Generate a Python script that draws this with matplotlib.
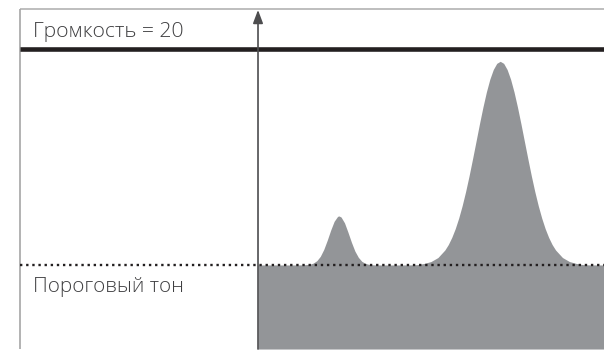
import matplotlib
matplotlib.use("Agg")
import matplotlib.pyplot as plt

# Data (level units: threshold = 0, volume = 20; frequency: axis at 0, right edge 100)
volume_level = 20
threshold_level = 0
label_volume = "Громкость = 20"
label_threshold = "Пороговый тон"

freq = [0, 10, 12, 13, 14, 15, 16, 17, 18, 19, 20, 21, 22, 23, 23.4, 24, 25, 26, 27, 28,
        29, 30, 31, 32, 33, 34, 36, 40, 44, 46, 48, 50, 52, 54, 55, 56, 57, 58, 59,
        60, 61, 62, 63, 64, 65, 66, 67, 68, 69, 70, 71, 72, 73, 74, 75, 76, 77, 78,
        79, 80, 81, 82, 83, 84, 85, 86, 88, 90, 92, 94, 96, 100]
level = [0, 0, 0.005, 0.015, 0.035, 0.07, 0.18, 0.40, 0.80, 1.44, 2.29, 3.23, 4.05, 4.51, 4.55,
         4.45, 3.91, 3.04, 2.11, 1.29, 0.71, 0.34, 0.15, 0.06, 0.02, 0.005, 0, 0, 0.005, 0.03,
         0.14, 0.32, 0.69, 1.39, 1.90, 2.56, 3.37, 4.35, 5.50, 6.81, 8.27, 9.84, 11.46,
         13.09, 14.64, 16.05, 17.24, 18.14, 18.71, 18.9, 18.71, 18.14, 17.24, 16.05,
         14.64, 13.09, 11.46, 9.84, 8.27, 6.81, 5.50, 4.35, 3.37, 2.56, 1.90, 1.39, 0.69,
         0.32, 0.14, 0.03, 0.005, 0]

fig = plt.figure(figsize=(6.04, 3.5), dpi=100)
ax = fig.add_axes([0, 0, 1, 1])
ax.set_xlim(-74.57, 100)
ax.set_ylim(-7.89, 24.59)
ax.axis("off")

left = -68.8
top = 23.71
bottom = -7.8

# frame
ax.plot([left, 100], [top, top], color="#b3b3b3", lw=1.2, solid_capstyle="butt")
ax.plot([left, left], [top, bottom], color="#a6a6a6", lw=1.2, solid_capstyle="butt")

# fill under the curve
ax.fill_between(freq, bottom, level, color="#939598", lw=0)

# volume line
ax.plot([left, 100], [volume_level, volume_level], color="#231f20", lw=3.3, solid_capstyle="butt")

# threshold dotted line
ax.plot([left, 100], [threshold_level, threshold_level], color="#231f20", lw=1.7,
        linestyle=(0, (1.0, 1.6)))

# vertical axis arrow
ax.annotate("", xy=(0, 23.67), xytext=(0, bottom),
            arrowprops=dict(arrowstyle="-|>,head_length=0.8,head_width=0.3",
                            color="#4d4d4f", lw=1.2, shrinkA=0, shrinkB=0))

ax.text(-65.0, 21.13, label_volume, fontsize=15.2, family="Open Sans", fontweight="light",
        color="#404042", va="baseline", ha="left")
ax.text(-65.0, -2.5, label_threshold, fontsize=14.9, family="Open Sans", fontweight="light",
        color="#404042", va="baseline", ha="left")

fig.savefig("out.png", dpi=100)
